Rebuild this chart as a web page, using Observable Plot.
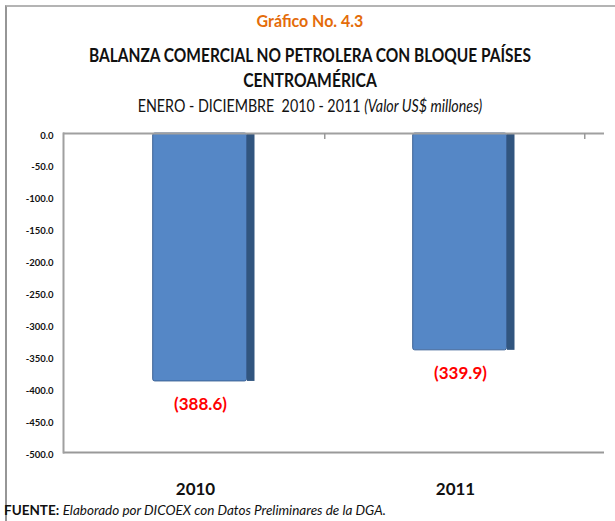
<!DOCTYPE html>
<html>
<head>
<meta charset="utf-8">
<script src="https://cdn.jsdelivr.net/npm/d3@7"></script>
<script src="https://cdn.jsdelivr.net/npm/@observablehq/plot@0.6"></script>
<style>
  html, body { margin: 0; padding: 0; background: #fff; }
  body { width: 615px; height: 521px; position: relative; overflow: hidden;
         font-family: Lato, "Open Sans", sans-serif; }
  #frame { position: absolute; left: 5px; top: 5px; width: 620px; height: 530px;
           border-top: 2px solid #b4b4b4; border-left: 2px solid #969696; box-sizing: border-box; }
  .t { position: absolute; left: 10px; width: 600px; text-align: center; white-space: nowrap;
       transform-origin: 300px 50%; }
  #t1 { top: 10px; font-size: 17px; font-weight: bold; color: #E46C0A; transform: scaleX(0.94); }
  #t2 { top: 44px; font-size: 18px; font-weight: bold; color: #111; transform: scaleX(0.86); }
  #t3 { top: 69px; font-size: 18px; font-weight: bold; color: #111; transform: scaleX(0.87); }
  #t4 { top: 95px; font-size: 17px; color: #111; transform: scaleX(0.84); }
  #chart { position: absolute; left: 0; top: 120px; }
  #foot { position: absolute; left: 4px; top: 502px; font-size: 13.5px; line-height: 16px; color: #111; white-space: nowrap; }
</style>
</head>
<body>
<div id="frame"></div>
<div class="t" id="t1">Gráfico No. 4.3</div>
<div class="t" id="t2">BALANZA COMERCIAL NO PETROLERA CON BLOQUE PAÍSES</div>
<div class="t" id="t3">CENTROAMÉRICA</div>
<div class="t" id="t4">ENERO - DICIEMBRE&nbsp; 2010 - 2011 <i>(Valor US$ millones)</i></div>
<div id="chart"></div>
<div id="foot"><b>FUENTE:</b> <i>Elaborado por DICOEX con Datos Preliminares de la DGA.</i></div>
<script>
const years = ["2010", "2011"];
const values = [-388.6, -339.9];
const valueLabels = ["(388.6)", "(339.9)"];
const yTicks = [0, -50, -100, -150, -200, -250, -300, -350, -400, -450, -500];

const data = years.map((y, i) => ({year: y, value: values[i], label: valueLabels[i]}));
const font = 'Lato, "Open Sans", sans-serif';

const chart = Plot.plot({
  width: 615,
  height: 392,
  marginTop: 13,
  marginBottom: 60,
  marginLeft: 63,
  marginRight: 11,
  style: {fontFamily: font, background: "transparent", overflow: "visible"},
  x: {type: "band", domain: years, range: [63, 584], padding: 0, axis: null},
  y: {domain: [-500, 0], axis: null},
  marks: [
    Plot.axisY({ticks: yTicks, tickFormat: d => d.toFixed(1), tickSize: 0, tickPadding: 10, label: null,
                fontSize: 9.5, fontWeight: "bold", fill: "#111", dy: 2}),
    Plot.barY(data, {x: "year", y: "value", fill: "#5587C6", stroke: "#3D6396", strokeWidth: 1,
                     insetLeft: 88.7, insetRight: 77.5, rx: 2}),
    Plot.barY(data, {x: "year", y: "value", fill: "#31557F", insetLeft: 183, insetRight: 69.5}),
    Plot.ruleY([0], {stroke: "#a0a0a0", strokeWidth: 2}),
    Plot.ruleY([-500], {stroke: "#999", strokeWidth: 2}),
    Plot.frame({anchor: "left", stroke: "#a0a0a0", strokeWidth: 2}),
    Plot.ruleX(years, {x: d => d, dx: 130.25, y1: 0, y2: -9.5, stroke: "#999", strokeWidth: 1.5}),
    Plot.text(data, {x: "year", y: "value", text: "label", dy: 23, dx: 6, lineAnchor: "middle",
                     fill: "#FF0000", fontSize: 17, fontWeight: "bold"}),
    Plot.text(years, {x: d => d, y: () => -500, text: d => d, dy: 37, dx: 1, lineAnchor: "middle",
                      fill: "#111", fontSize: 17, fontWeight: "bold"})
  ]
});
document.getElementById("chart").appendChild(chart);
</script>
</body>
</html>
